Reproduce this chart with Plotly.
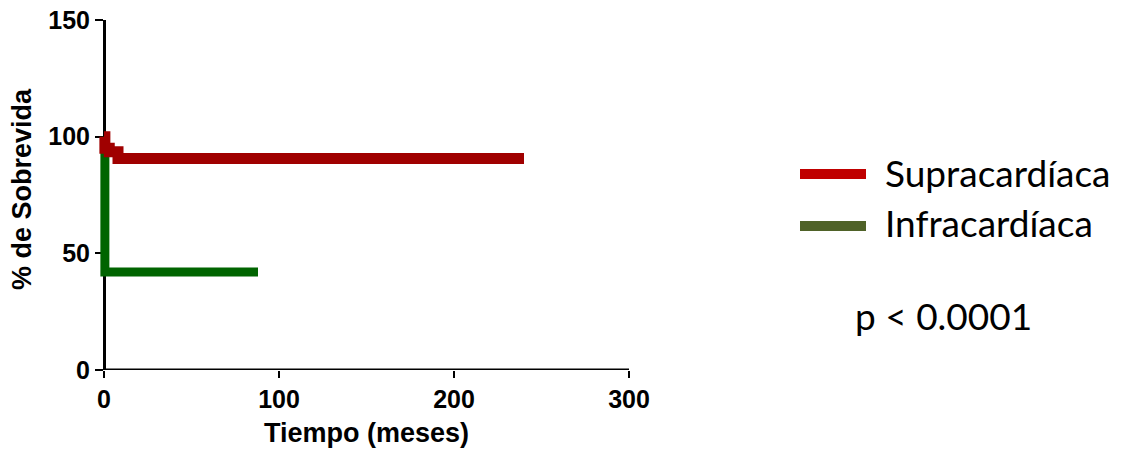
import plotly.graph_objects as go

# ---- data ----
supra_t = [0, 0.5, 3, 8, 240]
supra_s = [100, 95, 93.5, 90.6, 90.6]
infra_t = [0, 0.5, 88]
infra_s = [100, 42, 42]
series_names = ["Supracardíaca", "Infracardíaca"]
x_ticks = [0, 100, 200, 300]
y_ticks = [0, 50, 100, 150]
p_text = "p < 0.0001"
x_title = "Tiempo (meses)"
y_title = "% de Sobrevida"

OFF = 8  # page body margin in the browser
W, H = 1129 - OFF, 454 - OFF
# layout geometry (reference pixels)
px_x0, px_x300 = 104, 629
scale = (px_x300 - px_x0) / 300.0
xmin = -5
dom_left = px_x0 + xmin * scale
top, bottom = 20, 370

def fx(px):
    return (px - OFF) / W

def fy(py):
    return (bottom - py) / (bottom - top)

fig = go.Figure()
fig.add_trace(go.Scatter(x=infra_t, y=infra_s, mode="lines", line_shape="hv",
                         line=dict(color="#006400", width=9), name=series_names[1],
                         showlegend=False))
fig.add_trace(go.Scatter(x=supra_t, y=supra_s, mode="lines", line_shape="hv",
                         line=dict(color="#A00000", width=11), name=series_names[0],
                         showlegend=False))

tickfont = dict(family="Liberation Sans, Arial", size=25, color="black", weight="bold")
fig.update_layout(
    width=W, height=H,
    margin=dict(l=0, r=0, t=top - OFF, b=454 - bottom),
    paper_bgcolor="white", plot_bgcolor="white",
    xaxis=dict(range=[xmin, 300], domain=[fx(dom_left), fx(px_x300)],
               tickvals=x_ticks, ticks="outside", ticklen=7, tickwidth=2,
               tickcolor="black", showline=False, showgrid=False, zeroline=False,
               tickfont=tickfont, automargin=False, ticklabeloverflow="allow"),
    yaxis=dict(range=[0, 150], anchor="free", position=fx(px_x0),
               tickvals=y_ticks, ticks="outside", ticklen=8, tickwidth=2,
               tickcolor="black", showline=True, linewidth=3, linecolor="black",
               showgrid=False, zeroline=False, tickfont=tickfont,
               automargin=False, layer="below traces", ticklabeloverflow="allow"),
    shapes=[
        dict(type="line", xref="x", yref="y", x0=0, x1=300, y0=0, y1=0,
             line=dict(color="black", width=3), layer="below"),
        dict(type="line", xref="paper", yref="paper", x0=fx(800), x1=fx(866),
             y0=fy(174), y1=fy(174), line=dict(color="#C00000", width=10)),
        dict(type="line", xref="paper", yref="paper", x0=fx(800), x1=fx(866),
             y0=fy(226), y1=fy(226), line=dict(color="#4F6228", width=10)),
    ],
    annotations=[
        dict(text=x_title, xref="paper", yref="paper", x=fx(366), y=fy(433),
             showarrow=False, xanchor="center", yanchor="middle",
             font=dict(family="Liberation Sans, Arial", size=27, color="black", weight="bold")),
        dict(text=y_title, xref="paper", yref="paper", x=fx(22), y=fy(189),
             showarrow=False, xanchor="center", yanchor="middle", textangle=-90,
             font=dict(family="Liberation Sans, Arial", size=27, color="black", weight="bold")),
        dict(text=series_names[0], xref="paper", yref="paper", x=fx(883), y=fy(172),
             showarrow=False, xanchor="left", yanchor="middle",
             font=dict(family="Lato", size=37, color="black")),
        dict(text=series_names[1], xref="paper", yref="paper", x=fx(883), y=fy(222),
             showarrow=False, xanchor="left", yanchor="middle",
             font=dict(family="Lato", size=37, color="black")),
        dict(text=p_text, xref="paper", yref="paper", x=fx(853), y=fy(315),
             showarrow=False, xanchor="left", yanchor="middle",
             font=dict(family="Lato", size=37, color="black")),
    ],
)

fig.write_html("out.html")
